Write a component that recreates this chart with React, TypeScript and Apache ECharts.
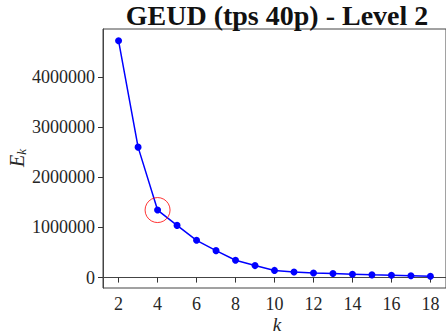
import React, { useEffect, useRef } from "react";
import * as echarts from "echarts";

const kValues = [2, 3, 4, 5, 6, 7, 8, 9, 10, 11, 12, 13, 14, 15, 16, 17, 18];
const ekValues = [
  4720000, 2600000, 1346000, 1040000, 743000, 537000, 346000, 239000, 143000,
  110000, 93000, 80000, 67000, 54000, 47000, 37000, 27000,
];
const xTicks = [2, 4, 6, 8, 10, 12, 14, 16, 18];
const yTicks = [0, 1000000, 2000000, 3000000, 4000000];
const highlightK = 4;
const titleText = "GEUD (tps 40p) - Level 2";

const FONT = "'Liberation Serif', 'DejaVu Serif', serif";
const TXT = "#262626";

export default function App() {
  const ref = useRef<HTMLDivElement>(null);
  useEffect(() => {
    if (!ref.current) return;
    const chart = echarts.init(ref.current, null, { renderer: "svg" });
    const xMin = 1.2, xMax = 18.8;
    const dMin = Math.min(...ekValues), dMax = Math.max(...ekValues);
    const pad = (dMax - dMin) * 0.05;
    const hiIdx = kValues.indexOf(highlightK);
    chart.setOption({
      animation: false,
      backgroundColor: "#ffffff",
      grid: {
        left: 103,
        top: 29,
        width: 348,
        height: 259,
        show: true,
        borderColor: "#444444",
        borderWidth: 1,
        backgroundColor: "transparent",
      },
      xAxis: {
        type: "value",
        min: xMin,
        max: xMax,
        splitLine: { show: false },
        axisLine: { show: true, lineStyle: { color: "#444444", width: 1 } },
        axisTick: {
          show: true,
          length: 5,
          customValues: xTicks,
          lineStyle: { color: "#333333" },
        },
        axisLabel: {
          customValues: xTicks,
          formatter: (v: number) => String(v),
          fontFamily: FONT,
          fontSize: 18,
          color: TXT,
          margin: 7,
        },
      },
      yAxis: {
        type: "value",
        min: dMin - pad,
        max: dMax + pad,
        splitLine: { show: false },
        axisLine: { show: true, lineStyle: { color: "#444444", width: 1 } },
        axisTick: {
          show: true,
          length: 5,
          customValues: yTicks,
          lineStyle: { color: "#333333" },
        },
        axisLabel: {
          customValues: yTicks,
          formatter: (v: number) => String(Math.round(v)),
          fontFamily: FONT,
          fontSize: 18,
          color: TXT,
          margin: 8,
        },
      },
      series: [
        {
          type: "line",
          data: kValues.map((k, i) => [k, ekValues[i]]),
          symbol: "circle",
          symbolSize: 7,
          showSymbol: true,
          lineStyle: { color: "#0000ff", width: 1.5 },
          itemStyle: { color: "#0000ff" },
          silent: true,
        },
        {
          type: "scatter",
          data: [[highlightK, ekValues[hiIdx]]],
          symbol: "circle",
          symbolSize: 25,
          itemStyle: {
            color: "rgba(0,0,0,0)",
            borderColor: "#ff0000",
            borderWidth: 1,
          },
          silent: true,
          z: 5,
        },
      ],
      graphic: [
        {
          type: "text",
          x: 277,
          y: 15,
          style: {
            text: titleText,
            fontFamily: FONT,
            fontWeight: "bold",
            fontSize: 28,
            fill: "#111111",
            align: "center",
            verticalAlign: "middle",
          },
        },
        {
          type: "text",
          x: 277,
          y: 324,
          style: {
            text: "k",
            fontFamily: FONT,
            fontStyle: "italic",
            fontSize: 19,
            lineHeight: 17,
            fill: TXT,
            align: "center",
            verticalAlign: "middle",
          },
        },
        {
          type: "text",
          x: 17,
          y: 158,
          rotation: Math.PI / 2,
          style: {
            text: "{e|E}{k|k}",
            fontFamily: FONT,
            align: "center",
            verticalAlign: "middle",
            rich: {
              e: {
                fontFamily: FONT,
                fontStyle: "italic",
                fontSize: 20,
                fill: TXT,
                color: TXT,
              },
              k: {
                fontFamily: FONT,
                fontStyle: "italic",
                fontSize: 13,
                fill: TXT,
                color: TXT,
                verticalAlign: "bottom",
                padding: [8, 0, 0, 0],
              },
            },
          },
        },
      ],
    });
    return () => chart.dispose();
  }, []);
  return (
    <div
      ref={ref}
      style={{ position: "fixed", left: 0, top: 0, width: 446, height: 333 }}
    />
  );
}
